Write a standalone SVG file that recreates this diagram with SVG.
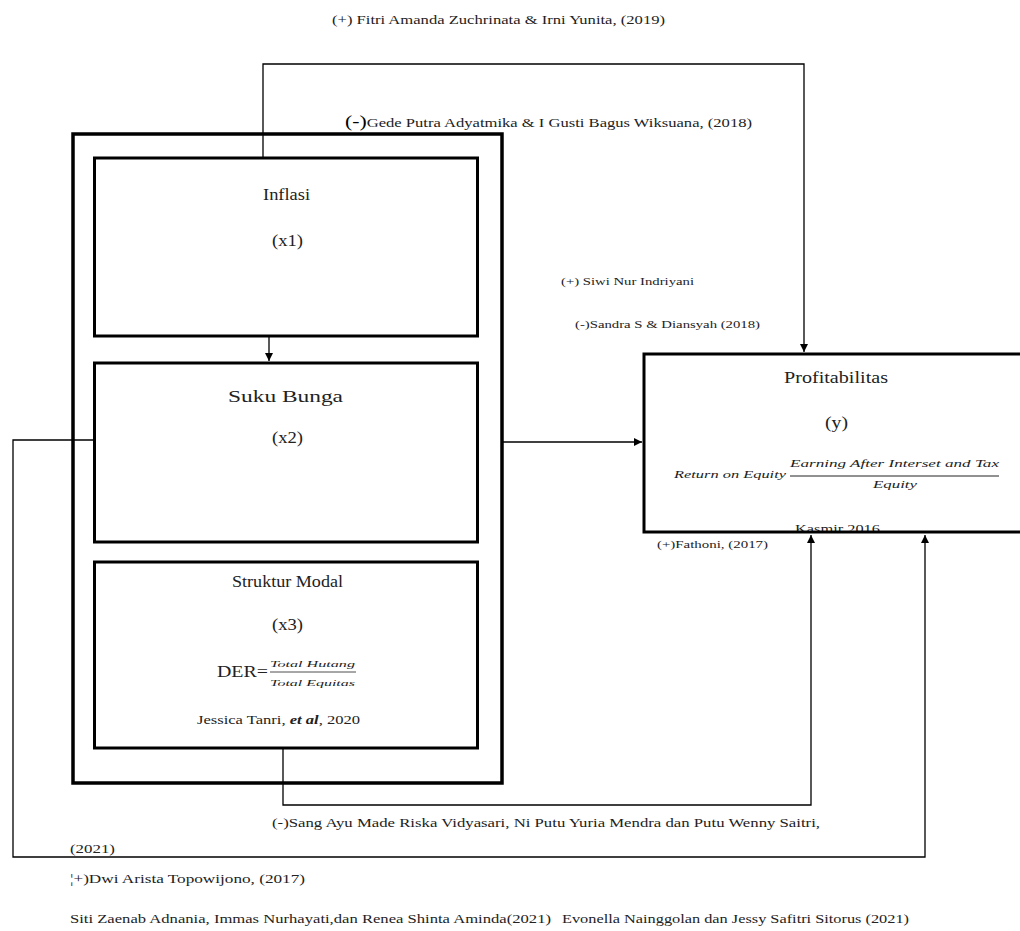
<svg xmlns="http://www.w3.org/2000/svg" width="1020" height="931" viewBox="0 0 1020 931">
<style>
.box{fill:none;stroke:#000;stroke-width:3}
.outer{fill:none;stroke:#000;stroke-width:3.5}
.conn{fill:none;stroke:#000;stroke-width:1.3}
.t{fill:#222}
.s{font-size:12px}
.m{font-size:16px}
.i{font-style:italic}
</style>
<defs>
<marker id="arr" markerUnits="userSpaceOnUse" markerWidth="9" markerHeight="9" refX="8" refY="4" orient="auto">
<path d="M0,0 L8,4 L0,8 z" fill="#000"/>
</marker>
</defs>
<rect x="0" y="0" width="1020" height="931" fill="#fff"/>

<g id="connectors">
<path class="conn" d="M263,158 V64 H804 V352" marker-end="url(#arr)"/>
<path class="conn" d="M269,337 V361" marker-end="url(#arr)"/>
<path class="conn" d="M502,442 H642" marker-end="url(#arr)"/>
<path class="conn" d="M94,440 H13 V857 H925 V535" marker-end="url(#arr)"/>
<path class="conn" d="M283,748 V805 H811 V535" marker-end="url(#arr)"/>
</g>

<g font-family="Liberation Serif, Times New Roman, DejaVu Serif, serif">
<g id="variabel-x">
<rect class="outer" x="73" y="134" width="429" height="649"/>
</g>

<g id="inflasi">
<rect class="box" x="94.5" y="158" width="383" height="178"/>
<text class="t m" x="263" y="200" textLength="47" lengthAdjust="spacingAndGlyphs">Inflasi</text>
<text class="t m" x="272" y="246" textLength="31" lengthAdjust="spacingAndGlyphs">(x1)</text>
</g>

<g id="suku-bunga">
<rect class="box" x="94.5" y="363" width="383" height="179"/>
<text class="t m" x="228" y="402" textLength="115" lengthAdjust="spacingAndGlyphs">Suku Bunga</text>
<text class="t m" x="272" y="443" textLength="31" lengthAdjust="spacingAndGlyphs">(x2)</text>
</g>

<g id="struktur-modal">
<rect class="box" x="94.5" y="562" width="383" height="186"/>
<text class="t m" x="232" y="587" textLength="111" lengthAdjust="spacingAndGlyphs">Struktur Modal</text>
<text class="t m" x="272" y="630" textLength="31" lengthAdjust="spacingAndGlyphs">(x3)</text>
<text class="t" x="217" y="677" font-size="17" textLength="51" lengthAdjust="spacingAndGlyphs">DER=</text>
<text class="t i" x="270" y="667" font-size="9" textLength="85" lengthAdjust="spacingAndGlyphs">Total Hutang</text>
<line x1="270" y1="672" x2="356" y2="672" stroke="#222" stroke-width="0.8"/>
<text class="t i" x="270" y="686" font-size="9" textLength="85" lengthAdjust="spacingAndGlyphs">Total Equitas</text>
<text class="t" x="197" y="724" font-size="13" textLength="163" lengthAdjust="spacingAndGlyphs">Jessica Tanri, <tspan font-style="italic" font-weight="bold">et al</tspan>, 2020</text>
</g>

<g id="profitabilitas">
<text class="t" x="784" y="383" font-size="17" textLength="104" lengthAdjust="spacingAndGlyphs">Profitabilitas</text>
<text class="t" x="825" y="428" font-size="17" textLength="23" lengthAdjust="spacingAndGlyphs">(y)</text>
<text class="t i" x="674" y="478" font-size="11" textLength="112" lengthAdjust="spacingAndGlyphs">Return on Equity</text>
<text class="t i" x="790" y="467" font-size="11" textLength="209" lengthAdjust="spacingAndGlyphs">Earning After Interset and Tax</text>
<line x1="790" y1="476" x2="999" y2="476" stroke="#222" stroke-width="1"/>
<text class="t i" x="873" y="488" font-size="11" textLength="44" lengthAdjust="spacingAndGlyphs">Equity</text>
<text class="t" x="795" y="533" font-size="13" textLength="85" lengthAdjust="spacingAndGlyphs">Kasmir 2016</text>
<rect class="box" x="644" y="354" width="400" height="178"/>
</g>

<g id="labels">
<text class="t s" x="332" y="24" textLength="333" lengthAdjust="spacingAndGlyphs">(+) Fitri Amanda Zuchrinata &amp; Irni Yunita, (2019)</text>
<text class="t" x="345" y="127" font-size="13" textLength="407" lengthAdjust="spacingAndGlyphs"><tspan font-size="17" fill="#000">(-)</tspan>Gede Putra Adyatmika &amp; I Gusti Bagus Wiksuana, (2018)</text>
<text class="t" x="561" y="285" font-size="10" textLength="133" lengthAdjust="spacingAndGlyphs">(+) Siwi Nur Indriyani</text>
<text class="t" x="575" y="328" font-size="11" textLength="185" lengthAdjust="spacingAndGlyphs">(-)Sandra S &amp; Diansyah (2018)</text>
<text class="t" x="657" y="548" font-size="11" textLength="111" lengthAdjust="spacingAndGlyphs">(+)Fathoni, (2017)</text>
<text class="t" x="272" y="827" font-size="13" textLength="548" lengthAdjust="spacingAndGlyphs">(-)Sang Ayu Made Riska Vidyasari, Ni Putu Yuria Mendra dan Putu Wenny Saitri,</text>
<text class="t" x="70" y="853" font-size="13" textLength="45" lengthAdjust="spacingAndGlyphs">(2021)</text>
<text class="t" x="70" y="883" font-size="13" textLength="235" lengthAdjust="spacingAndGlyphs">¦+)Dwi  Arista Topowijono, (2017)</text>
<text class="t" x="70" y="923" font-size="13" textLength="481" lengthAdjust="spacingAndGlyphs">Siti Zaenab Adnania, Immas Nurhayati,dan Renea Shinta Aminda(2021)</text>
<text class="t" x="562" y="923" font-size="13" textLength="347" lengthAdjust="spacingAndGlyphs">Evonella Nainggolan dan Jessy Safitri Sitorus (2021)</text>
</g>
</g>
</svg>
